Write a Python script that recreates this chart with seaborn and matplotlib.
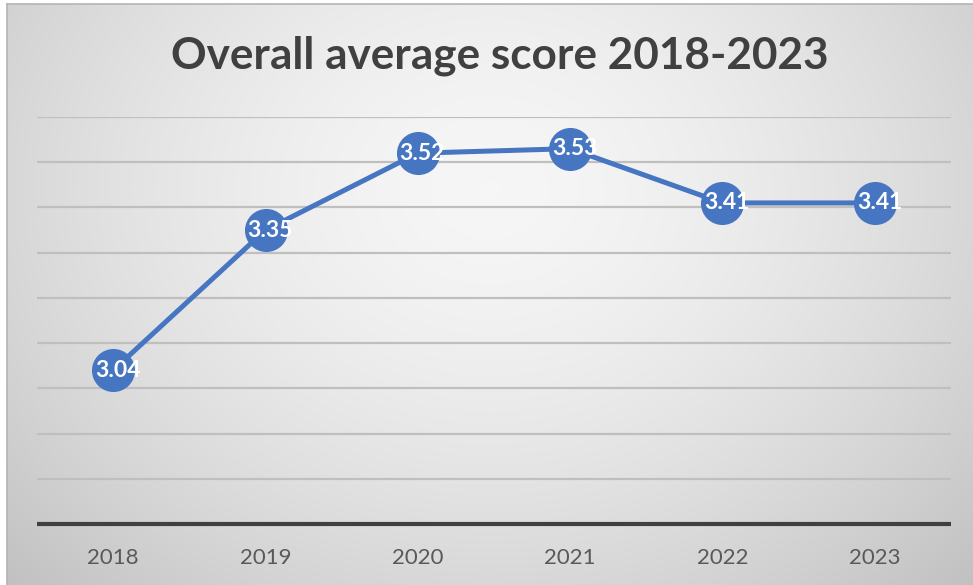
import numpy as np
import pandas as pd
import matplotlib
matplotlib.use("Agg")
import matplotlib.pyplot as plt
import seaborn as sns

years = ["2018", "2019", "2020", "2021", "2022", "2023"]
scores = [3.04, 3.35, 3.52, 3.53, 3.41, 3.41]
title = "Overall average score 2018-2023"

sns.set_theme(style="white")
plt.rcParams["font.family"] = ["Lato", "DejaVu Sans"]

W, H = 973, 585
fig = plt.figure(figsize=(W / 100, H / 100), dpi=100)
fig.patch.set_facecolor("white")

# Radial grey gradient panel behind the chart
bx0, btop = 7 / W, 4 / H
bg = fig.add_axes([bx0, 0, 1 - bx0, 1 - btop], zorder=0)
gx = np.linspace(0, 1, 400)
gy = np.linspace(0, 1, 260)
X, Y = np.meshgrid(gx, gy)
r = np.sqrt(((X - 0.5) / 0.62) ** 2 + ((Y - 0.32) / 0.85) ** 2)
shade = 0.965 - 0.17 * np.clip(r, 0, 1.2) ** 1.6
bg.imshow(np.dstack([shade] * 3), extent=[0, 1, 1, 0], aspect="auto",
          interpolation="bilinear")
bg.set_xlim(0, 1)
bg.set_ylim(1, 0)
bg.set_xticks([])
bg.set_yticks([])
for side, sp in bg.spines.items():
    sp.set_visible(side in ("top", "left"))
    sp.set_color("#b4b4b4")
    sp.set_linewidth(1.2)

ax = fig.add_axes([37 / W, (H - 524) / H, (951 - 37) / W, (524 - 117) / H], zorder=2)
ax.set_facecolor("none")

df = pd.DataFrame({"year": years, "score": scores})
blue = "#4675C2"
sns.lineplot(data=df, x="year", y="score", ax=ax, color=blue, linewidth=3.6,
             marker="o", markersize=31, markeredgewidth=0, sort=False, zorder=3)

for i, v in enumerate(scores):
    ax.text(i + 0.03, v, f"{v:.2f}", ha="center", va="center", color="white",
            fontsize=16.5, fontweight="bold", zorder=4)

ax.set_xlim(-0.5, len(years) - 0.5)
ax.set_ylim(2.7, 3.6)
ax.set_yticks(np.round(np.arange(2.8, 3.61, 0.1), 2))
ax.set_yticklabels([])
ax.yaxis.grid(True, color="#bfbfbf", linewidth=1.6)
ax.xaxis.grid(False)
ax.set_axisbelow(True)
ax.tick_params(axis="y", length=0)
ax.tick_params(axis="x", length=0, pad=17, labelsize=16, labelcolor="#595959")
ax.set_xlabel("")
ax.set_ylabel("")
for side in ("top", "left", "right"):
    ax.spines[side].set_visible(False)
ax.spines["bottom"].set_color("#404040")
ax.spines["bottom"].set_linewidth(3)
ax.spines["bottom"].set_capstyle("butt")

fig.text(500 / W, 1 - 56 / H, title, ha="center", va="center", fontsize=31.8,
         fontweight="bold", color="#404040", zorder=5)

fig.savefig("out.png", dpi=100)
